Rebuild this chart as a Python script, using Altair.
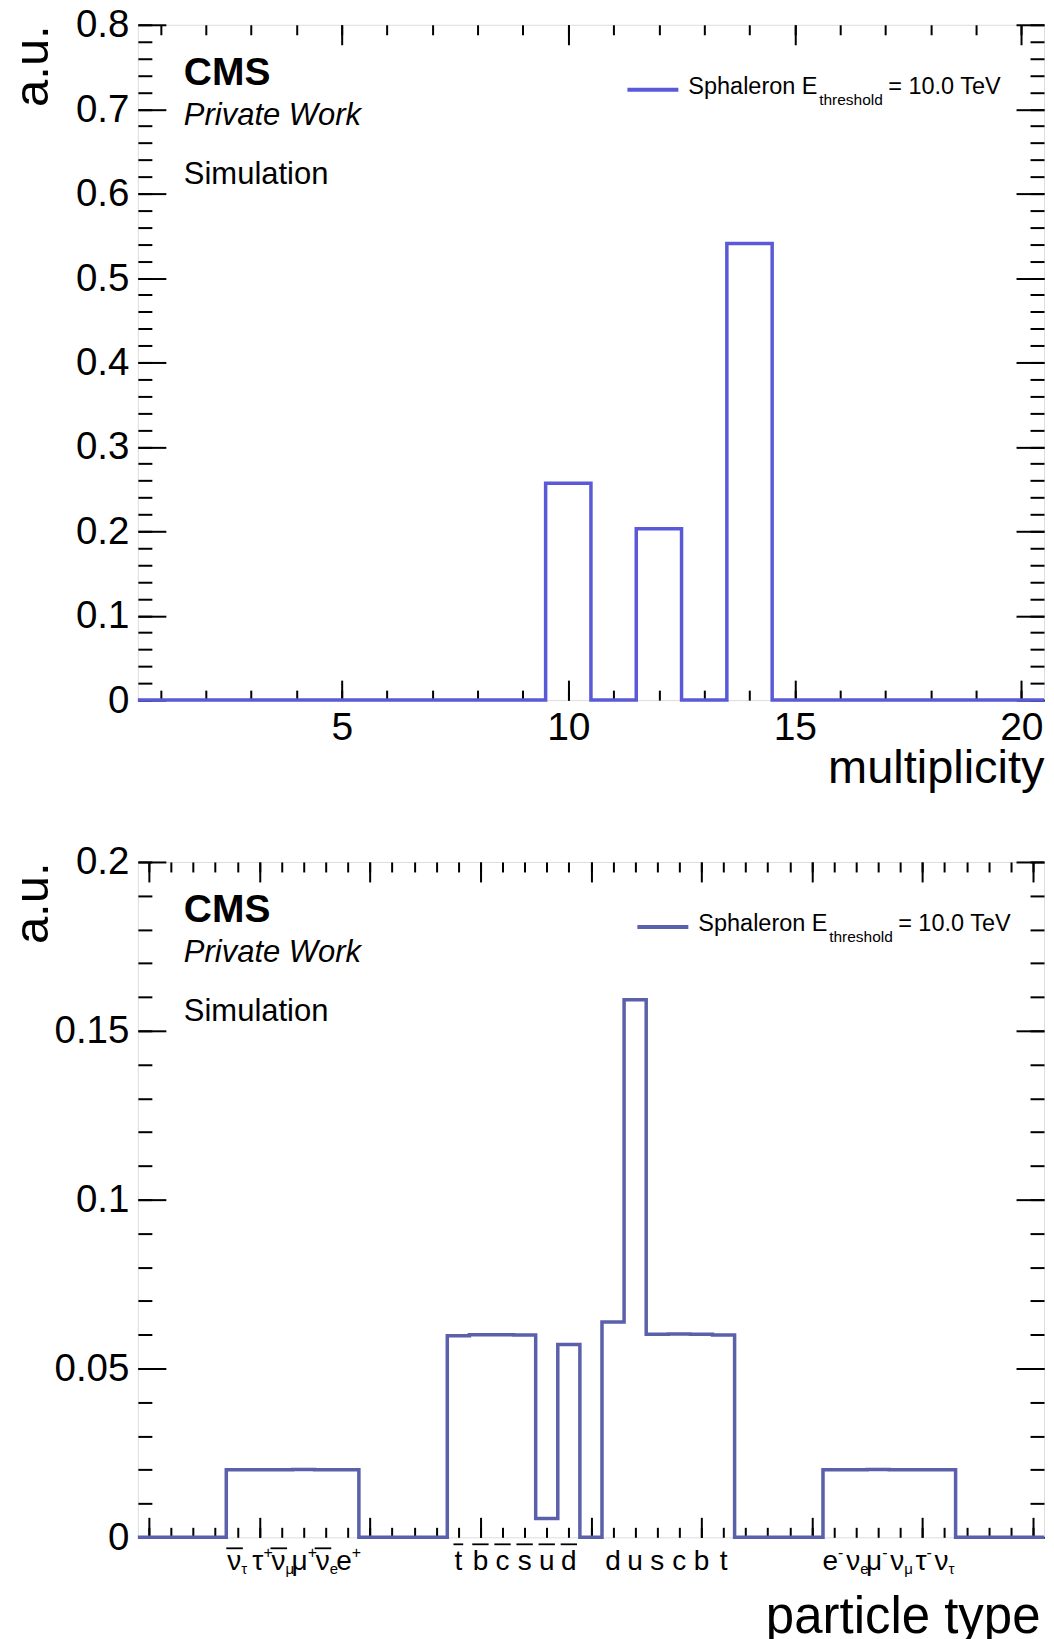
import altair as alt
import pandas as pd

FONT = "Liberation Sans"
TOP_COLOR = "#5a5ad8"
BOT_COLOR = "#5b60aa"

# ---------------- data: top panel (multiplicity) ----------------
mult_bins = list(range(1, 21))
mult_values = [0, 0, 0, 0, 0, 0, 0, 0, 0, 0.257, 0, 0.203, 0, 0.541, 0, 0, 0, 0, 0, 0]
mult_x_major = [5, 10, 15, 20]
mult_x_minor = list(range(1, 21))
mult_y_major = [0, 0.1, 0.2, 0.3, 0.4, 0.5, 0.6, 0.7, 0.8]
mult_y_minor = [round(i * 0.02, 2) for i in range(41)]

# ---------------- data: bottom panel (particle type, PDG id) ----------------
pdg_bins = list(range(-20, 21))
particle_values = [
    0, 0, 0, 0,
    0.0200, 0.0200, 0.0200, 0.0201, 0.0200, 0.0200,
    0, 0, 0, 0,
    0.0597, 0.0600, 0.0600, 0.0599, 0.0056, 0.0571,
    0,
    0.0638, 0.1592, 0.0601, 0.0602, 0.0601, 0.0599,
    0, 0, 0, 0,
    0.0200, 0.0200, 0.0201, 0.0200, 0.0200, 0.0200,
    0, 0, 0, 0,
]
pt_x_major = [-20, -15, -10, -5, 0, 5, 10, 15, 20]
pt_x_minor = list(range(-20, 21))
pt_y_major = [0, 0.05, 0.1, 0.15, 0.2]
pt_y_minor = [round(i * 0.01, 2) for i in range(21)]

lepton_bins = [-16, -15, -14, -13, -12, -11, 11, 12, 13, 14, 15, 16]
lepton_base = ["ν", "τ", "ν", "μ", "ν", "e", "e", "ν", "μ", "ν", "τ", "ν"]
lepton_sub = ["τ", "", "μ", "", "e", "", "", "e", "", "μ", "", "τ"]
lepton_sup = ["", "+", "", "+", "", "+", "-", "", "-", "", "-", ""]
lepton_bar = [True, False, True, False, True, False, False, False, False, False, False, False]
quark_bins = [-6, -5, -4, -3, -2, -1, 1, 2, 3, 4, 5, 6]
quark_base = ["t", "b", "c", "s", "u", "d", "d", "u", "s", "c", "b", "t"]
quark_bar = [True, True, True, True, True, True, False, False, False, False, False, False]

W, H = 907, 676


def step_df(bins, values):
    xs = [b - 0.5 for b in bins] + [bins[-1] + 0.5]
    ys = list(values) + [values[-1]]
    return pd.DataFrame({"x": xs, "y": ys})


def axis(orient, values, size, offset, labels=False, **kw):
    # ticks always point into the plot: the axis line is moved inside by `offset`
    base = dict(orient=orient, values=values, tickSize=size, offset=offset,
                grid=False, domain=False, tickColor="black", tickWidth=2,
                labels=labels, labelFlush=False, minExtent=0)
    if not labels and "title" not in kw:
        kw["title"] = None
    base.update(kw)
    return alt.Axis(**base)


def frame_layers(df, xs, ys, xmaj, xmin, ymaj, ymin, xlen, ylen, xlabels,
                 xtitle, xtitle_size, xtitle_x, xtitle_y, ytitle_x):
    ttl = dict(titleFont=FONT, titleColor="black", titleFontWeight="normal")
    ax_main_x = axis("bottom", xmaj, xlen, -xlen, labels=xlabels, labelPadding=8,
                     format="~g", title=xtitle, titleFontSize=xtitle_size,
                     titleAlign="right", titleAnchor="end", titleBaseline="alphabetic",
                     titleX=xtitle_x, titleY=xtitle_y,
                     labelFont=FONT, labelFontSize=39, labelColor="black", **ttl)
    ax_main_y = axis("left", ymaj, ylen, -ylen, labels=True, labelPadding=9, format="~g",
                     title="a.u.", titleFontSize=49, titleAngle=-90, titleAlign="right",
                     titleAnchor="end", titleBaseline="alphabetic",
                     titleX=ytitle_x, titleY=0,
                     labelFont=FONT, labelFontSize=38.5, labelColor="black", **ttl)
    combos = [
        (ax_main_x, ax_main_y),
        (axis("bottom", xmin, xlen // 2, -(xlen // 2)), axis("left", ymin, ylen // 2, -(ylen // 2))),
        # top edge ticks (bottom-oriented axis moved to the top edge)
        # right edge ticks (left-oriented axis moved to the right edge)
        (axis("bottom", xmaj, xlen, -H), axis("left", ymaj, ylen, -W)),
        (axis("bottom", xmin, xlen // 2, -H), axis("left", ymin, ylen // 2, -W)),
    ]
    layers = []
    for ax_x, ax_y in combos:
        layers.append(
            alt.Chart(df).mark_line(opacity=0).encode(
                x=alt.X("x:Q", scale=xs, axis=ax_x),
                y=alt.Y("y:Q", scale=ys, axis=ax_y),
            )
        )
    return layers


def annotations(legend_dx):
    one = pd.DataFrame({"k": [0]})
    t = lambda **kw: alt.Chart(one).mark_text(align="left", baseline="alphabetic",
                                              color="black", font=FONT, **kw)
    return [
        t(fontSize=39, fontWeight="bold", text="CMS").encode(x=alt.value(46), y=alt.value(60)),
        t(fontSize=31, fontStyle="italic", text="Private Work").encode(x=alt.value(46), y=alt.value(100)),
        t(fontSize=31, text="Simulation").encode(x=alt.value(46), y=alt.value(159)),
        t(fontSize=23.5, text="Sphaleron E").encode(x=alt.value(551 + legend_dx), y=alt.value(69)),
        t(fontSize=15.5, text="threshold").encode(x=alt.value(682 + legend_dx), y=alt.value(80)),
        t(fontSize=23.5, text="= 10.0 TeV").encode(x=alt.value(751 + legend_dx), y=alt.value(69)),
    ]


def legend_line(color, legend_dx):
    one = pd.DataFrame({"k": [0]})
    return alt.Chart(one).mark_rule(color=color, strokeWidth=4).encode(
        x=alt.value(490 + legend_dx), x2=alt.value(541 + legend_dx), y=alt.value(65))


# ---------------- top panel ----------------
top_df = step_df(mult_bins, mult_values)
xs_top = alt.Scale(domain=[0.5, 20.5], nice=False, zero=False)
ys_top = alt.Scale(domain=[0, 0.8], nice=False, zero=False)

top_hist = alt.Chart(top_df).mark_line(
    interpolate="step-after", color=TOP_COLOR, strokeWidth=3.5, strokeJoin="miter"
).encode(x=alt.X("x:Q", scale=xs_top, axis=None), y=alt.Y("y:Q", scale=ys_top, axis=None))

top = alt.layer(
    *frame_layers(top_df, xs_top, ys_top, mult_x_major, mult_x_minor, mult_y_major,
                  mult_y_minor, 20, 28, True, "multiplicity", 47, W, 102, -118),
    top_hist,
    *annotations(0),
    legend_line(TOP_COLOR, 0),
).resolve_axis(x="independent", y="independent").properties(width=W, height=H)

# ---------------- bottom panel ----------------
bot_df = step_df(pdg_bins, particle_values)
xs_bot = alt.Scale(domain=[-20.5, 20.5], nice=False, zero=False)
ys_bot = alt.Scale(domain=[0, 0.2], nice=False, zero=False)

bot_hist = alt.Chart(bot_df).mark_line(
    interpolate="step-after", color=BOT_COLOR, strokeWidth=3.5, strokeJoin="miter"
).encode(x=alt.X("x:Q", scale=xs_bot, axis=None), y=alt.Y("y:Q", scale=ys_bot, axis=None))

lep_df = pd.DataFrame({"bin": lepton_bins, "base": lepton_base, "sub": lepton_sub,
                       "sup": lepton_sup, "bar": lepton_bar})
lep_df["lo"] = lep_df["bin"] - 0.5
lep_df["hi"] = lep_df["bin"] + 0.25
q_df = pd.DataFrame({"bin": quark_bins, "base": quark_base, "bar": quark_bar})
q_df["lo"] = q_df["bin"] - q_df["base"].map(lambda s: 0.22 if s == "t" else 0.37)
q_df["hi"] = q_df["bin"] + q_df["base"].map(lambda s: 0.22 if s == "t" else 0.37)

LBL_Y = H + 33
xb = lambda f: alt.X(f, scale=xs_bot, axis=None)

label_layers = [
    alt.Chart(q_df).mark_text(align="center", baseline="alphabetic", fontSize=28,
                              font=FONT, color="black").encode(
        x=xb("bin:Q"), y=alt.value(LBL_Y), text="base:N"),
    alt.Chart(lep_df).mark_text(align="right", dx=4, baseline="alphabetic", fontSize=28,
                                font=FONT, color="black").encode(
        x=xb("bin:Q"), y=alt.value(LBL_Y), text="base:N"),
    alt.Chart(lep_df).mark_text(align="left", dx=4, baseline="alphabetic", fontSize=15,
                                font=FONT, color="black").encode(
        x=xb("bin:Q"), y=alt.value(LBL_Y + 4), text="sub:N"),
    alt.Chart(lep_df).mark_text(align="left", dx=4, baseline="alphabetic", fontSize=16,
                                font=FONT, color="black").encode(
        x=xb("bin:Q"), y=alt.value(LBL_Y - 12), text="sup:N"),
    alt.Chart(q_df).transform_filter("datum.bar").mark_rule(color="black", strokeWidth=1.8).encode(
        x=xb("lo:Q"), x2="hi:Q", y=alt.value(LBL_Y - 26)),
    alt.Chart(lep_df).transform_filter("datum.bar").mark_rule(color="black", strokeWidth=1.8).encode(
        x=xb("lo:Q"), x2="hi:Q", y=alt.value(LBL_Y - 22)),
]

bottom = alt.layer(
    *frame_layers(bot_df, xs_bot, ys_bot, pt_x_major, pt_x_minor, pt_y_major,
                  pt_y_minor, 20, 28, False, "particle type", 51, W - 4, 115, -118),
    bot_hist,
    *label_layers,
    *annotations(10),
    legend_line(BOT_COLOR, 10),
).resolve_axis(x="independent", y="independent").properties(width=W, height=H)

chart = alt.vconcat(top, bottom, spacing=50).properties(
    padding={"left": 0, "top": -4, "right": -6, "bottom": 0}
).configure_view(stroke="black", strokeWidth=3).configure(font=FONT)

chart.save("out.html", embed_options={"renderer": "svg", "actions": False})
